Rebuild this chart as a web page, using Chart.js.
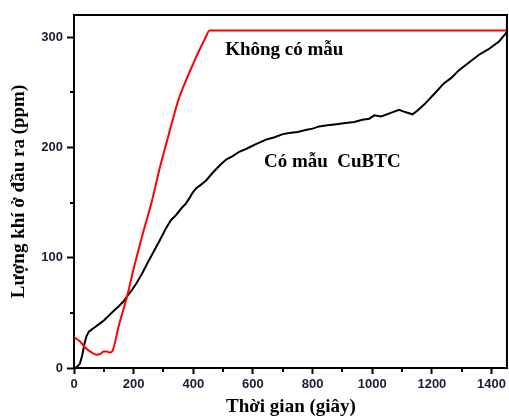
<!DOCTYPE html>
<html>
<head>
<meta charset="utf-8">
<script src="https://cdn.jsdelivr.net/npm/chart.js@4"></script>
<style>
  html, body { margin: 0; padding: 0; background: #fff; }
  #wrap { width: 509px; height: 418px; }
</style>
</head>
<body>
<div id="wrap"><canvas id="chart_gasOutlet"></canvas></div>
<script>
// Khong co mau (red)
var redX = [0, 20, 40, 60, 75, 90, 100, 110, 120, 130, 150, 178, 200, 231, 260, 290, 310, 331, 350, 376, 400, 420, 440, 455, 1455];
var redY = [28, 24, 18, 14, 12, 13, 15, 15, 14, 16, 38, 65, 90, 122, 150, 184, 204, 225, 243, 261, 276, 288, 299, 306, 306];

// Co mau CuBTC (black)
var blackX = [0, 10, 20, 28, 35, 42, 50, 60, 70, 85, 100, 115, 130, 150, 165, 178, 195, 210, 231, 250, 270, 290, 309, 325, 340, 355, 364, 375, 387, 398, 410, 425, 443, 465, 490, 510, 532, 554, 580, 610, 644, 670, 700, 722, 750, 780, 800, 822, 850, 880, 910, 940, 967, 990, 1007, 1030, 1060, 1090, 1110, 1135, 1150, 1175, 1213, 1240, 1265, 1291, 1320, 1358, 1390, 1425, 1453];
var blackY = [0, 1, 4, 12, 22, 29, 33, 35, 37, 40, 43, 47, 51, 56, 60, 65, 71, 77, 87, 97, 107, 117, 127, 134, 138, 143, 146, 149, 154, 159, 163, 166, 170, 177, 184, 189, 192, 196, 199, 203, 207, 209, 212, 213, 214, 216, 217, 219, 220, 221, 222, 223, 225, 226, 229, 228, 231, 234, 232, 230, 233, 239, 250, 258, 263, 270, 276, 284, 289, 296, 305];

var xTicks = [0, 200, 400, 600, 800, 1000, 1200, 1400];
var yTicks = [0, 100, 200, 300];
var xMinor = [100, 300, 500, 700, 900, 1100, 1300];
var yMinor = [50, 150, 250];

var notes = [
  { text: 'Không có mẫu', x: 705, y: 288 },
  { text: 'Có mẫu  CuBTC', x: 866, y: 187 }
];

function pts(xs, ys) {
  return xs.map(function (x, i) { return { x: x, y: ys[i] }; });
}

var tickFont = { family: 'Liberation Sans', size: 13, weight: 'bold' };
var tickColor = '#1c1c38';
var titleFont = { family: 'Liberation Serif', size: 19, weight: 'bold' };

var chart_gasOutlet = new Chart(document.getElementById('chart_gasOutlet'), {
    type: 'line',
    data: {
        datasets: [
            {
                label: 'Không có mẫu',
                data: pts(redX, redY),
                borderColor: '#ff0000',
                borderWidth: 2,
                pointRadius: 0,
                cubicInterpolationMode: 'monotone'
            },
            {
                label: 'Có mẫu CuBTC',
                data: pts(blackX, blackY),
                borderColor: '#000000',
                borderWidth: 2,
                pointRadius: 0,
                tension: 0
            }
        ]
    },
    options: {
        animation: false,
        responsive: true,
        maintainAspectRatio: false,
        layout: { padding: { top: 15, right: 0, left: 0, bottom: 0 } },
        plugins: {
            legend: { display: false },
            tooltip: { enabled: false }
        },
        scales: {
            x: {
                type: 'linear',
                min: 0,
                max: 1455,
                afterBuildTicks: function (axis) {
                    axis.ticks = xTicks.map(function (v) { return { value: v }; });
                },
                afterFit: function (axis) { axis.height = 50; },
                ticks: {
                    color: tickColor, font: tickFont, padding: 3, maxRotation: 0,
                    callback: function (v) { return String(v); }
                },
                grid: { drawOnChartArea: false, tickLength: 6, tickWidth: 2, tickColor: '#000' },
                border: { color: '#000', width: 2 },
                title: {
                    display: true,
                    text: 'Thời gian (giây)',
                    color: '#000',
                    font: titleFont,
                    align: 'center',
                    padding: { top: 0, bottom: 0 }
                }
            },
            y: {
                type: 'linear',
                min: 0,
                max: 320,
                afterBuildTicks: function (axis) {
                    axis.ticks = yTicks.map(function (v) { return { value: v }; });
                },
                afterFit: function (axis) { axis.width = 74; },
                ticks: {
                    color: tickColor, font: tickFont, padding: 4,
                    callback: function (v) { return String(v); }
                },
                grid: { drawOnChartArea: false, tickLength: 7, tickWidth: 2, tickColor: '#000' },
                border: { color: '#000', width: 2 },
                title: {
                    display: true,
                    text: 'Lượng khí ở đầu ra (ppm)',
                    color: '#000',
                    font: titleFont,
                    padding: { top: 8, bottom: 0 }
                }
            }
        }
    },
    plugins: [{
        id: 'frameAndNotes',
        beforeDraw: function (chart) {
            var ctx = chart.ctx;
            ctx.save();
            ctx.fillStyle = 'white';
            ctx.fillRect(0, 0, chart.width, chart.height);
            ctx.restore();
        },
        afterDraw: function (chart) {
            var ctx = chart.ctx;
            var a = chart.chartArea;
            var xs = chart.scales.x, ys = chart.scales.y;
            ctx.save();
            ctx.strokeStyle = '#000';
            ctx.lineWidth = 2;
            ctx.beginPath();
            ctx.moveTo(a.left - 1, a.top);
            ctx.lineTo(a.right, a.top);
            ctx.moveTo(a.right - 1, a.top);
            ctx.lineTo(a.right - 1, a.bottom);
            ctx.stroke();
            // minor ticks
            ctx.beginPath();
            xMinor.forEach(function (v) {
                var px = Math.round(xs.getPixelForValue(v));
                ctx.moveTo(px, a.bottom);
                ctx.lineTo(px, a.bottom + 4);
            });
            yMinor.forEach(function (v) {
                var py = Math.round(ys.getPixelForValue(v));
                ctx.moveTo(a.left, py);
                ctx.lineTo(a.left - 4, py);
            });
            ctx.stroke();
            // labels on the plot
            ctx.fillStyle = '#000';
            ctx.font = 'bold 19px "Liberation Serif"';
            ctx.textAlign = 'center';
            ctx.textBaseline = 'middle';
            notes.forEach(function (n) {
                ctx.fillText(n.text, xs.getPixelForValue(n.x), ys.getPixelForValue(n.y));
            });
            ctx.restore();
        }
    }]
});
</script>
</body>
</html>
